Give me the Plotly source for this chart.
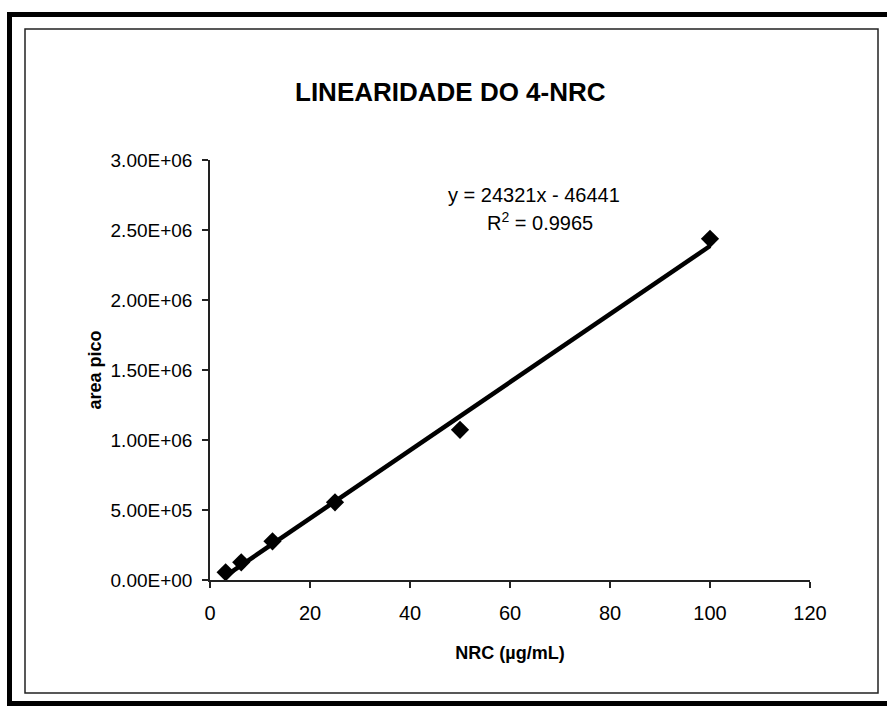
import plotly.graph_objects as go

# Calibration data: concentration (µg/mL) vs. peak area
conc = [3.125, 6.25, 12.5, 25, 50, 100]
area = [55000, 126000, 276000, 555000, 1073000, 2437000]

# Linear regression reported for the series
slope = 24321
intercept = -46441
r2 = 0.9965

x_ticks = [0, 20, 40, 60, 80, 100, 120]
y_ticks = [0, 500000, 1000000, 1500000, 2000000, 2500000, 3000000]
y_tick_text = ["0.00E+00", "5.00E+05", "1.00E+06", "1.50E+06",
               "2.00E+06", "2.50E+06", "3.00E+06"]

W, H = 887, 706
L, R, T, B = 210, 810, 160, 580   # plot area in pixels


def px(xp):
    return (xp - L) / (R - L)


def py(yp):
    return (B - yp) / (B - T)


fit_x = [min(conc), max(conc)]
fit_y = [slope * v + intercept for v in fit_x]

fig = go.Figure()
fig.add_trace(go.Scatter(
    x=fit_x, y=fit_y, mode="lines",
    line=dict(color="black", width=4.5), hoverinfo="skip", showlegend=False,
))
fig.add_trace(go.Scatter(
    x=conc, y=area, mode="markers",
    marker=dict(symbol="diamond", size=14, color="black"),
    showlegend=False,
))

font_family = "Liberation Sans, Arial, sans-serif"

fig.update_layout(
    width=W, height=H,
    margin=dict(l=L, r=W - R, t=T, b=H - B),
    paper_bgcolor="white", plot_bgcolor="white",
    font=dict(family=font_family, color="black", size=19),
    xaxis=dict(
        range=[0, 120], tickvals=x_ticks, showgrid=False, zeroline=False,
        showline=True, linecolor="#222", linewidth=1.5,
        ticks="outside", ticklen=6, tickcolor="#222", tickwidth=1.5,
        tickfont=dict(size=20), ticklabelstandoff=8, fixedrange=True,
        title=dict(text="<b>NRC (µg/mL)</b>", font=dict(size=18), standoff=24),
    ),
    yaxis=dict(
        range=[0, 3000000], tickvals=y_ticks, ticktext=y_tick_text,
        showgrid=False, zeroline=False,
        showline=True, linecolor="#222", linewidth=1.5,
        ticks="outside", ticklen=6, tickcolor="#222", tickwidth=1.5,
        tickfont=dict(size=19), ticklabelstandoff=6, fixedrange=True,
        title=dict(text="<b>area pico</b>", font=dict(size=18), standoff=4),
    ),
    annotations=[
        dict(text="<b>LINEARIDADE DO 4-NRC</b>", xref="paper", yref="paper",
             x=px(450), y=py(92), showarrow=False, font=dict(size=26),
             xanchor="center", yanchor="middle"),
        dict(text=f"y = {slope}x - {abs(intercept)}", xref="paper", yref="paper",
             x=px(534), y=py(195), showarrow=False, font=dict(size=20),
             xanchor="center", yanchor="middle"),
        dict(text=f"R<sup>2</sup> = {r2}", xref="paper", yref="paper",
             x=px(540), y=py(221), showarrow=False, font=dict(size=20),
             xanchor="center", yanchor="middle"),
    ],
    shapes=[
        # outer frame
        dict(type="rect", xref="paper", yref="paper",
             x0=px(9.5), x1=px(895), y0=py(703.5), y1=py(14.5),
             line=dict(color="black", width=5), layer="below"),
        # chart area border
        dict(type="rect", xref="paper", yref="paper",
             x0=px(25), x1=px(878), y0=py(693), y1=py(29),
             line=dict(color="#222", width=1.5), layer="below"),
    ],
)

fig.write_html("out.html")
